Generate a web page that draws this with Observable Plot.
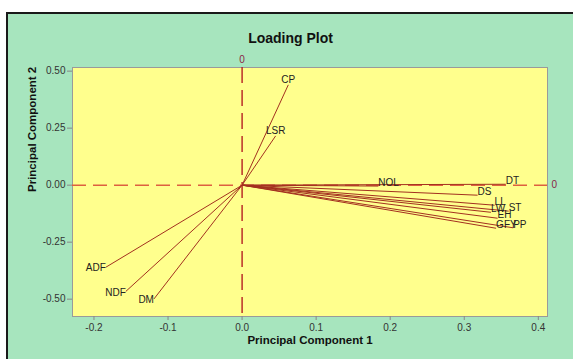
<!DOCTYPE html>
<html>
<head>
<meta charset="utf-8">
<script src="https://cdn.jsdelivr.net/npm/d3@7"></script>
<script src="https://cdn.jsdelivr.net/npm/@observablehq/plot@0.6"></script>
<style>
  html, body { margin: 0; padding: 0; background: #fff; }
  #wrap { position: relative; width: 573px; height: 359px; overflow: hidden; }
  #bg { position: absolute; left: 6px; top: 12px; width: 620px; height: 420px; background: #A7E5BE; border: 2px solid #1a1a1a; }
  #chart { position: absolute; left: 0; top: 0; }
</style>
</head>
<body>
<div id="wrap"><div id="bg"></div><div id="chart"></div></div>
<script>
const variables = ["CP", "LSR", "ADF", "NDF", "DM", "DT", "NOL", "DS", "LL", "LW", "ST", "EH", "GFY", "PP"];
const pc1 = [0.0624, 0.0453, -0.184, -0.157, -0.119, 0.356, 0.184, 0.318, 0.341, 0.336, 0.360, 0.345, 0.343, 0.366];
const pc2 = [0.440, 0.216, -0.360, -0.466, -0.499, 0.004, -0.004, -0.044, -0.088, -0.119, -0.114, -0.145, -0.189, -0.187];
const xTicks = [-0.2, -0.1, 0.0, 0.1, 0.2, 0.3, 0.4];
const yTicks = [-0.5, -0.25, 0, 0.25, 0.5];

const data = variables.map((v, i) => ({name: v, x: pc1[i], y: pc2[i]}));

const vecColor = "#A3301F";
const font = "Liberation Sans, Arial, sans-serif";

const chart = Plot.plot({
  width: 573,
  height: 359,
  marginTop: 67,
  marginRight: 26,
  marginBottom: 43,
  marginLeft: 72,
  style: {background: "transparent", fontFamily: font, fontSize: "10px", color: "#333"},
  x: {domain: [-0.229, 0.4124]},
  y: {domain: [-0.576, 0.516]},
  marks: [
    Plot.frame({fill: "#FFFF8D", stroke: "#9a9a9a"}),
    Plot.axisX({ticks: xTicks, tickFormat: d => d.toFixed(1), tickSize: 4, tickPadding: 3, label: null, stroke: "#888", fill: "#333"}),
    Plot.axisY({ticks: yTicks, tickFormat: d => d.toFixed(2), tickSize: 5, tickPadding: 2, label: null, stroke: "#888", fill: "#333"}),
    Plot.ruleX([0], {stroke: "#B0101A", strokeWidth: 1.3, strokeDasharray: "16,7"}),
    Plot.ruleY([0], {stroke: "#DD6040", strokeWidth: 1.5, strokeDasharray: "14,7"}),
    Plot.text([0], {x: d => d, frameAnchor: "top", lineAnchor: "middle", dy: -8, text: d => "0", fill: "#8B1E46", fontSize: 10}),
    Plot.text([0], {y: d => d, frameAnchor: "right", dx: 4, textAnchor: "start", text: d => "0", fill: "#8B1E46", fontSize: 10}),
    Plot.link(data, {x1: d => 0, y1: d => 0, x2: "x", y2: "y", stroke: vecColor, strokeWidth: 1}),
    // labels: upward vectors centered, leftward vectors end-anchored, rightward start-anchored
    Plot.text(data.filter(d => d.x >= 0 && d.y > 0.1), {x: "x", y: "y", text: "name", dy: -5, textAnchor: "middle", fill: "#222", fontSize: 10}),
    Plot.text(data.filter(d => d.x < 0), {x: "x", y: "y", text: "name", dy: 1, textAnchor: "end", fill: "#222", fontSize: 10}),
    Plot.text(data.filter(d => d.x >= 0 && d.y <= 0.1), {x: "x", y: "y", text: "name", dy: -3, textAnchor: "start", fill: "#222", fontSize: 10}),
    // titles
    Plot.text(["Loading Plot"], {frameAnchor: "top-left", lineAnchor: "middle", dx: 218, dy: -29, text: d => d, textAnchor: "middle", fontWeight: "bold", fontSize: 14, fill: "#111", style: "letter-spacing:0.5px"}),
    Plot.text(["Principal Component 1"], {frameAnchor: "bottom", lineAnchor: "middle", dy: 24, text: d => d, fontWeight: "bold", fontSize: 11.5, fill: "#111"}),
    Plot.text(["Principal Component 2"], {frameAnchor: "left", dx: -40, rotate: -90, text: d => d, fontWeight: "bold", fontSize: 11.5, fill: "#111"})
  ]
});
document.getElementById("chart").appendChild(chart);
</script>
</body>
</html>
